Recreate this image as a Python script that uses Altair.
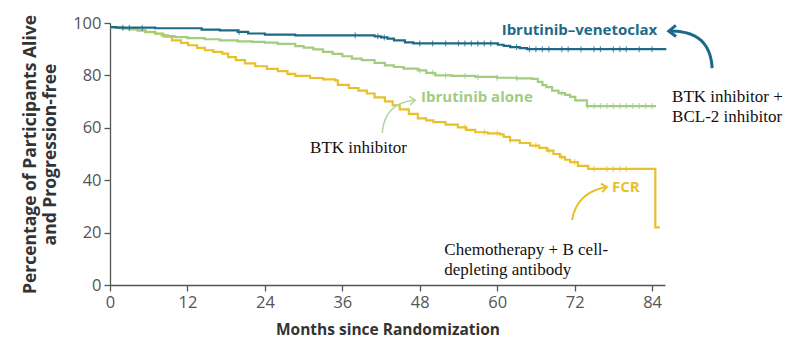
import altair as alt
import pandas as pd
import numpy as np

# ---------------- data ----------------
iv_months = [0, 1, 7, 14.2, 17, 19.8, 21.4, 24, 28.7, 41, 42, 43, 44, 45.7, 47, 60.1, 61, 62, 63.5, 64.6, 86.2]
iv_values = [98.4, 98.2, 98.0, 97.5, 97.2, 96.6, 96.0, 95.6, 95.3, 94.9, 94.5, 94.0, 93.4, 92.6, 92.2,
             91.7, 91.3, 90.8, 90.4, 90.0, 90.0]

ib_months = [0, 1.5, 3, 4.3, 5.5, 7, 8, 9, 10, 12, 14.7, 17, 19.8, 22, 24, 26, 28.7, 30, 31.5, 33, 34.5,
             36, 37.5, 39, 41, 42.6, 44, 45.5, 47.7, 49, 50.4, 53, 56.6, 60, 63, 65.4, 66.3, 67, 67.6,
             68.5, 69.5, 70.5, 71.3, 72.1, 73.9, 84.6]
ib_values = [98.4, 98.0, 97.6, 97.2, 96.6, 96.0, 95.3, 95.0, 94.6, 94.2, 93.8, 93.4, 93.0, 92.8, 92.5,
             92.0, 91.2, 90.6, 89.9, 89.0, 88.2, 87.3, 86.4, 85.8, 84.8, 83.8, 83.2, 82.6, 81.9, 81.0,
             80.0, 79.8, 79.4, 79.1, 78.9, 78.7, 77.5, 76.3, 75.5, 74.2, 73.2, 72.6, 71.8, 70.5, 68.3, 68.3]

fcr_months = [0, 2, 4.3, 5.5, 7, 8.3, 9.6, 11, 12.1, 13.5, 14.7, 16, 17.4, 18.3, 19.5, 20.9, 22.5, 24.3,
              26, 27.5, 28.7, 31, 33, 34.9, 35.3, 37, 38.5, 39.8, 41, 42.6, 43.8, 44.9, 46.3, 47.7, 49,
              50.1, 52, 53.9, 55.2, 56.6, 58.5, 60.4, 61, 62, 63.5, 65.1, 66.5, 67.7, 68.7, 69.7, 70.5,
              71.3, 72.5, 74.1, 84.5, 85.2]
fcr_values = [98.4, 97.8, 97.2, 96.5, 95.9, 94.8, 93.4, 92.4, 91.5, 90.5, 89.6, 89.0, 88.3, 87.0, 85.8,
              84.6, 83.5, 82.5, 81.6, 80.6, 79.8, 79.0, 78.5, 78.1, 76.4, 75.2, 74.2, 73.1, 71.6, 70.1,
              68.6, 67.0, 65.3, 63.6, 62.8, 62.2, 61.2, 60.2, 59.2, 58.3, 57.9, 57.5, 56.5, 55.2, 54.2,
              53.2, 52.3, 51.3, 50.0, 48.8, 47.8, 46.9, 45.5, 44.3, 22.0, 22.0]

iv_censor = [2, 3, 5, 20, 38, 41.5, 42.5, 48, 50, 52, 54, 55, 56, 57, 58, 59, 63, 65, 66, 67, 68, 70,
             71, 73, 75, 76, 78, 79, 80, 82, 84]
ib_censor = [48, 50, 52, 55, 57, 60, 63, 70, 74, 75, 76, 77, 78, 79, 80, 81, 82, 83, 84]
fcr_censor = [55, 58, 60, 62, 66, 68, 70, 72, 75, 77, 78, 79, 80]

x_ticks = [0, 12, 24, 36, 48, 60, 72, 84]
y_ticks = [0, 20, 40, 60, 80, 100]

BLUE = "#1d6a88"
GREEN = "#a2cc80"
YELLOW = "#e8c02a"

W, H = 555, 262
XMAX, YMAX = 86, 100
SX, SY = W / XMAX, H / YMAX


def step_value(months, values, t):
    idx = 0
    for i, m in enumerate(months):
        if m <= t:
            idx = i
    return values[idx]


def curve_df(months, values):
    return pd.DataFrame({"m": months, "v": values})


def censor_df(months, values, times):
    return pd.DataFrame({"m": times, "v": [step_value(months, values, t) for t in times]})


x_enc = alt.X("m:Q", scale=alt.Scale(domain=[0, XMAX], nice=False, zero=False),
              axis=alt.Axis(values=x_ticks, title="Months since Randomization"))
y_enc = alt.Y("v:Q", scale=alt.Scale(domain=[0, YMAX], nice=False),
              axis=alt.Axis(values=y_ticks,
                            title=["Percentage of Participants Alive", "and Progression-free"]))


def km_layer(months, values, color, width):
    return alt.Chart(curve_df(months, values)).mark_line(
        interpolate="step-after", color=color, strokeWidth=width
    ).encode(x=x_enc, y=y_enc)


def censor_layer(months, values, times, color):
    return alt.Chart(censor_df(months, values, times)).mark_tick(
        orient="vertical", color=color, size=6, thickness=1.2
    ).encode(x="m:Q", y="v:Q")


# ---------------- annotation arrows ----------------
def to_px(m, v):
    return m * SX, v * SY


def to_data(px, py):
    return px / SX, py / SY


def arrow_dfs(start, ctrl_px_offset, tip, head=8):
    p0 = np.array(to_px(*start))
    p2 = np.array(to_px(*tip))
    p1 = p0 + np.array(ctrl_px_offset)
    t = np.linspace(0, 1, 30)
    pts = [(1 - s) ** 2 * p0 + 2 * (1 - s) * s * p1 + s ** 2 * p2 for s in t]
    body = pd.DataFrame({"m": [to_data(*p)[0] for p in pts],
                         "v": [to_data(*p)[1] for p in pts],
                         "o": list(range(len(pts)))})
    d = p2 - p1
    d = d / np.linalg.norm(d)
    back = -d
    arms = []
    for ang in (np.radians(38), -np.radians(38)):
        c, s_ = np.cos(ang), np.sin(ang)
        r = np.array([back[0] * c - back[1] * s_, back[0] * s_ + back[1] * c])
        arms.append(p2 + head * r)
    hp = [arms[0], p2, arms[1]]
    headdf = pd.DataFrame({"m": [to_data(*p)[0] for p in hp],
                           "v": [to_data(*p)[1] for p in hp],
                           "o": [0, 1, 2]})
    return body, headdf


def arrow_layers(start, ctrl, tip, color, width, head):
    body, hd = arrow_dfs(start, ctrl, tip, head)
    b = alt.Chart(body).mark_line(color=color, strokeWidth=width, clip=False).encode(
        x="m:Q", y="v:Q", order="o:Q")
    h = alt.Chart(hd).mark_line(color=color, strokeWidth=width, clip=False).encode(
        x="m:Q", y="v:Q", order="o:Q")
    return [b, h]


arrows = []
arrows += arrow_layers((93.3, 82.8), (-2, 38), (86.6, 96.9), BLUE, 3, 9)
arrows += arrow_layers((42.2, 58.0), (2, 30), (47.3, 70.6), "#b5d39c", 1.5, 7)
arrows += arrow_layers((71.6, 24.8), (5, 28), (77.0, 37.4), YELLOW, 2, 7)


def text_layer(m, v, lines, color, font, size, weight="normal", align="left"):
    df = pd.DataFrame({"m": [m], "v": [v], "t": [lines]})
    return alt.Chart(df).mark_text(
        align=align, baseline="middle", font=font, fontSize=size, fontWeight=weight,
        color=color, lineHeight=20, clip=False
    ).encode(x="m:Q", y="v:Q", text="t:N")


SANS = "Open Sans"
SERIF = "Liberation Serif"

texts = [
    text_layer(84.8, 97.3, "Ibrutinib\u2013venetoclax", BLUE, SANS, 15, "bold", "right"),
    text_layer(48.2, 71.8, "Ibrutinib alone", GREEN, SANS, 15, "bold"),
    text_layer(77.8, 37.4, "FCR", YELLOW, SANS, 15, "bold"),
    text_layer(87.1, 71.8, ["BTK inhibitor +", "BCL-2 inhibitor"], "#111", SERIF, 17),
    text_layer(31.0, 52.3, "BTK inhibitor", "#111", SERIF, 17),
    text_layer(51.8, 13.4, ["Chemotherapy + B cell-", "depleting antibody"], "#111", SERIF, 17),
]

layers = [
    km_layer(fcr_months, fcr_values, YELLOW, 2.2),
    km_layer(ib_months, ib_values, GREEN, 2.2),
    km_layer(iv_months, iv_values, BLUE, 2.2),
    censor_layer(fcr_months, fcr_values, fcr_censor, YELLOW),
    censor_layer(ib_months, ib_values, ib_censor, GREEN),
    censor_layer(iv_months, iv_values, iv_censor, BLUE),
] + arrows + texts

chart = alt.layer(*layers).properties(
    width=W, height=H,
    autosize=alt.AutoSizeParams(type="none"),
    padding={"left": 110, "top": 23, "right": 135, "bottom": 68},
).configure_view(stroke=None).configure_axis(
    grid=False,
    domainColor="#555",
    domainWidth=1.3,
    tickColor="#555",
    tickWidth=1.3,
    tickSize=6,
    labelFont=SANS,
    labelFontSize=16.5,
    labelColor="#555",
    labelFlush=False,
    titleFont=SANS,
    titleColor="#333",
    titleFontWeight="bold",
).configure_axisX(
    labelPadding=3,
    titlePadding=12,
    titleFontSize=15.5,
).configure_axisY(
    labelPadding=3,
    titlePadding=13,
    titleFontSize=17.5,
    titleLineHeight=20,
)

chart.save("out.html", embed_options={"renderer": "svg", "actions": False})
